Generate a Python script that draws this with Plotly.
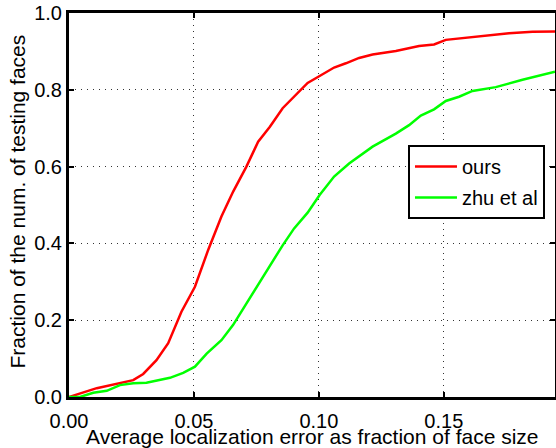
import plotly.graph_objects as go

ours_x = [0.0, 0.0111, 0.0257, 0.0297, 0.035, 0.0397, 0.045, 0.0504, 0.0557, 0.061,
          0.0657, 0.071, 0.0757, 0.0804, 0.0855, 0.0908, 0.0955, 0.1003, 0.1061, 0.1108,
          0.1161, 0.1215, 0.1308, 0.1401, 0.1461, 0.1508, 0.1601, 0.1681, 0.1761, 0.1855, 0.1945]
ours_y = [0.0, 0.023, 0.044, 0.060, 0.096, 0.140, 0.222, 0.287, 0.383, 0.470,
          0.535, 0.600, 0.665, 0.704, 0.752, 0.786, 0.818, 0.836, 0.858, 0.869,
          0.883, 0.892, 0.901, 0.914, 0.918, 0.930, 0.936, 0.943, 0.947, 0.951, 0.952]

zhu_x = [0.0, 0.0044, 0.0097, 0.0151, 0.0204, 0.0257, 0.031, 0.0404, 0.0457, 0.0504,
         0.0551, 0.061, 0.0657, 0.0711, 0.0757, 0.0804, 0.0855, 0.0901, 0.0955, 0.1003,
         0.1061, 0.1121, 0.1215, 0.1308, 0.1361, 0.1408, 0.1461, 0.1508, 0.1561, 0.1615,
         0.1708, 0.1815, 0.1945]
zhu_y = [0.0, 0.0, 0.011, 0.016, 0.031, 0.036, 0.037, 0.050, 0.063, 0.079,
         0.113, 0.148, 0.188, 0.244, 0.292, 0.344, 0.395, 0.439, 0.480, 0.526,
         0.574, 0.608, 0.652, 0.686, 0.708, 0.733, 0.749, 0.771, 0.782, 0.797,
         0.807, 0.826, 0.847]

x_ticks = [0.0, 0.05, 0.10, 0.15]
y_ticks = [0.0, 0.2, 0.4, 0.6, 0.8, 1.0]

x_title = "Average localization error as fraction of face size"
y_title = "Fraction of the num. of testing faces"

FONT = "Liberation Sans, Arial, Helvetica, sans-serif"

fig = go.Figure()
fig.add_trace(go.Scatter(x=ours_x, y=ours_y, mode="lines", name="ours",
                         line=dict(color="#ff0000", width=2.5), legendgroup="a"))
fig.add_trace(go.Scatter(x=zhu_x, y=zhu_y, mode="lines", name="zhu et al",
                         line=dict(color="#00ff00", width=2.5), legendgroup="b"))

axis_common = dict(
    showline=True, linecolor="black", linewidth=3, mirror="ticks",
    ticks="inside", ticklen=5, tickwidth=2, tickcolor="black",
    showgrid=True, gridcolor="#333333", gridwidth=1, griddash="1px,5px",
    zeroline=False, automargin=False,
    tickfont=dict(family=FONT, size=20, color="black"),
)

fig.update_xaxes(range=[0, 0.1945], tickvals=x_ticks, tickformat=".2f",
                 ticklabelstandoff=4, **axis_common)
fig.update_yaxes(range=[0, 1], tickvals=y_ticks, tickformat=".1f", **axis_common)

fig.update_layout(
    width=556, height=448,
    margin=dict(l=69, r=1, t=13, b=51),
    paper_bgcolor="white", plot_bgcolor="white",
    showlegend=True,
    legend=dict(x=0.6975, y=0.656, xanchor="left", yanchor="top",
                bgcolor="white", bordercolor="black", borderwidth=2,
                font=dict(family=FONT, size=20, color="black"),
                tracegroupgap=2, itemwidth=42),
    annotations=[
        dict(text=x_title, xref="paper", yref="paper", x=0.5, y=0,
             xanchor="center", yanchor="middle", yshift=-39, showarrow=False,
             font=dict(family=FONT, size=21, color="black")),
        dict(text=y_title, xref="paper", yref="paper", x=0, y=0.509,
             xanchor="center", yanchor="middle", xshift=-51, textangle=-90,
             showarrow=False, font=dict(family=FONT, size=21, color="black")),
    ],
)

# remove the browser's default 8px body margin so the figure fills the window
fig.write_html("out.html", config={"displayModeBar": False},
               post_script="document.body.style.margin='0';")
